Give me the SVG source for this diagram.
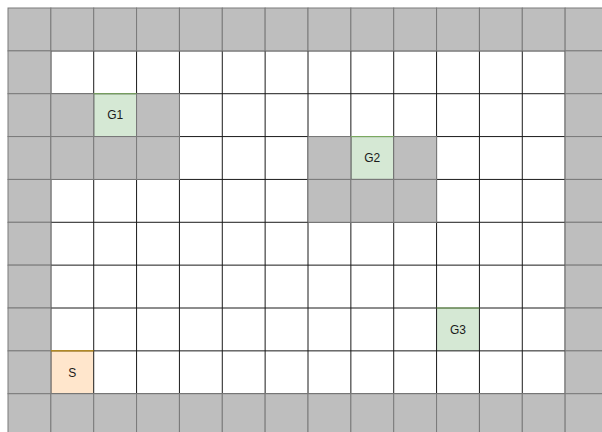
<svg xmlns="http://www.w3.org/2000/svg" width="602" height="432" viewBox="0 0 602 432">
<style>
.g{fill:#bebebe;stroke:#7a7a7a;stroke-width:1}
.goal{fill:#d5e8d4}
.start{fill:#ffe6cc}
.gtop{stroke:#82b366;stroke-width:1}
.stop{stroke:#d79b00;stroke-width:1}
.lbl{font-family:"Liberation Sans",Arial,sans-serif;font-size:12px;fill:#1a1a1a;text-anchor:middle}
.gl{stroke:#1a1a1a;stroke-width:1}
</style>
<rect width="602" height="432" fill="#ffffff"/>
<g id="floor">
<rect x="50.86" y="50.86" width="514.28" height="342.85" fill="#ffffff"/>
<rect class="goal" x="93.71" y="93.71" width="42.86" height="42.86"/>
<rect class="goal" x="350.86" y="136.57" width="42.86" height="42.86"/>
<rect class="goal" x="436.57" y="308" width="42.86" height="42.86"/>
<rect class="start" x="50.86" y="350.86" width="42.86" height="42.86"/>
<g class="gl">
<line x1="50.86" y1="50.86" x2="50.86" y2="393.71"/>
<line x1="93.71" y1="50.86" x2="93.71" y2="393.71"/>
<line x1="136.57" y1="50.86" x2="136.57" y2="393.71"/>
<line x1="179.43" y1="50.86" x2="179.43" y2="393.71"/>
<line x1="222.29" y1="50.86" x2="222.29" y2="393.71"/>
<line x1="265.14" y1="50.86" x2="265.14" y2="393.71"/>
<line x1="308" y1="50.86" x2="308" y2="393.71"/>
<line x1="350.86" y1="50.86" x2="350.86" y2="393.71"/>
<line x1="393.71" y1="50.86" x2="393.71" y2="393.71"/>
<line x1="436.57" y1="50.86" x2="436.57" y2="393.71"/>
<line x1="479.43" y1="50.86" x2="479.43" y2="393.71"/>
<line x1="522.29" y1="50.86" x2="522.29" y2="393.71"/>
<line x1="565.14" y1="50.86" x2="565.14" y2="393.71"/>
<line x1="50.86" y1="50.86" x2="565.14" y2="50.86"/>
<line x1="50.86" y1="93.71" x2="565.14" y2="93.71"/>
<line x1="50.86" y1="136.57" x2="565.14" y2="136.57"/>
<line x1="50.86" y1="179.43" x2="565.14" y2="179.43"/>
<line x1="50.86" y1="222.29" x2="565.14" y2="222.29"/>
<line x1="50.86" y1="265.14" x2="565.14" y2="265.14"/>
<line x1="50.86" y1="308" x2="565.14" y2="308"/>
<line x1="50.86" y1="350.86" x2="565.14" y2="350.86"/>
<line x1="50.86" y1="393.71" x2="565.14" y2="393.71"/>
</g>
</g>
<g id="walls" class="g">
<rect x="8" y="8" width="42.86" height="42.86"/>
<rect x="50.86" y="8" width="42.86" height="42.86"/>
<rect x="93.71" y="8" width="42.86" height="42.86"/>
<rect x="136.57" y="8" width="42.86" height="42.86"/>
<rect x="179.43" y="8" width="42.86" height="42.86"/>
<rect x="222.29" y="8" width="42.86" height="42.86"/>
<rect x="265.14" y="8" width="42.86" height="42.86"/>
<rect x="308" y="8" width="42.86" height="42.86"/>
<rect x="350.86" y="8" width="42.86" height="42.86"/>
<rect x="393.71" y="8" width="42.86" height="42.86"/>
<rect x="436.57" y="8" width="42.86" height="42.86"/>
<rect x="479.43" y="8" width="42.86" height="42.86"/>
<rect x="522.29" y="8" width="42.86" height="42.86"/>
<rect x="565.14" y="8" width="42.86" height="42.86"/>
<rect x="8" y="50.86" width="42.86" height="42.86"/>
<rect x="8" y="93.71" width="42.86" height="42.86"/>
<rect x="8" y="136.57" width="42.86" height="42.86"/>
<rect x="8" y="179.43" width="42.86" height="42.86"/>
<rect x="8" y="222.29" width="42.86" height="42.86"/>
<rect x="8" y="265.14" width="42.86" height="42.86"/>
<rect x="8" y="308" width="42.86" height="42.86"/>
<rect x="8" y="350.86" width="42.86" height="42.86"/>
<rect x="565.14" y="50.86" width="42.86" height="42.86"/>
<rect x="565.14" y="93.71" width="42.86" height="42.86"/>
<rect x="565.14" y="136.57" width="42.86" height="42.86"/>
<rect x="565.14" y="179.43" width="42.86" height="42.86"/>
<rect x="565.14" y="222.29" width="42.86" height="42.86"/>
<rect x="565.14" y="265.14" width="42.86" height="42.86"/>
<rect x="565.14" y="308" width="42.86" height="42.86"/>
<rect x="565.14" y="350.86" width="42.86" height="42.86"/>
<rect x="8" y="393.71" width="42.86" height="42.86"/>
<rect x="50.86" y="393.71" width="42.86" height="42.86"/>
<rect x="93.71" y="393.71" width="42.86" height="42.86"/>
<rect x="136.57" y="393.71" width="42.86" height="42.86"/>
<rect x="179.43" y="393.71" width="42.86" height="42.86"/>
<rect x="222.29" y="393.71" width="42.86" height="42.86"/>
<rect x="265.14" y="393.71" width="42.86" height="42.86"/>
<rect x="308" y="393.71" width="42.86" height="42.86"/>
<rect x="350.86" y="393.71" width="42.86" height="42.86"/>
<rect x="393.71" y="393.71" width="42.86" height="42.86"/>
<rect x="436.57" y="393.71" width="42.86" height="42.86"/>
<rect x="479.43" y="393.71" width="42.86" height="42.86"/>
<rect x="522.29" y="393.71" width="42.86" height="42.86"/>
<rect x="565.14" y="393.71" width="42.86" height="42.86"/>
<rect x="50.86" y="93.71" width="42.86" height="42.86"/>
<rect x="136.57" y="93.71" width="42.86" height="42.86"/>
<rect x="50.86" y="136.57" width="42.86" height="42.86"/>
<rect x="93.71" y="136.57" width="42.86" height="42.86"/>
<rect x="136.57" y="136.57" width="42.86" height="42.86"/>
<rect x="308" y="136.57" width="42.86" height="42.86"/>
<rect x="393.71" y="136.57" width="42.86" height="42.86"/>
<rect x="308" y="179.43" width="42.86" height="42.86"/>
<rect x="350.86" y="179.43" width="42.86" height="42.86"/>
<rect x="393.71" y="179.43" width="42.86" height="42.86"/>
</g>
<g id="G1">
<line class="gtop" x1="93.71" y1="93.71" x2="136.57" y2="93.71"/>
<text class="lbl" x="115.14" y="119.3">G1</text>
</g>
<g id="G2">
<line class="gtop" x1="350.86" y1="136.57" x2="393.71" y2="136.57"/>
<text class="lbl" x="372.29" y="162.2">G2</text>
</g>
<g id="G3">
<line class="gtop" x1="436.57" y1="308" x2="479.43" y2="308"/>
<text class="lbl" x="458" y="333.6">G3</text>
</g>
<g id="S">
<line class="stop" x1="50.86" y1="350.86" x2="93.71" y2="350.86"/>
<text class="lbl" x="72.29" y="376.5">S</text>
</g>
</svg>
